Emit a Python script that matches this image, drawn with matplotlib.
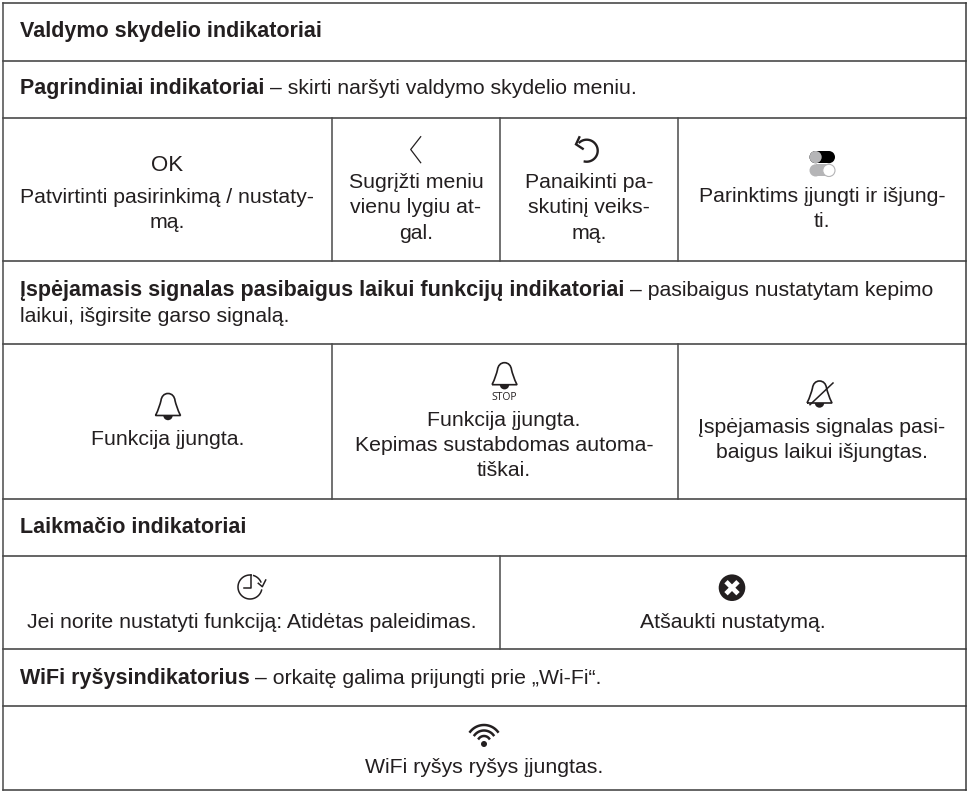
"""Control-panel indicator table drawn on a pixel-sized canvas."""
import numpy as np
import matplotlib

matplotlib.use("Agg")
import matplotlib.pyplot as plt
from matplotlib.patches import Circle, PathPatch, Rectangle, Wedge
from matplotlib.path import Path

WIDTH, HEIGHT = 969, 792
INK = "#231f20"
FONT = "Liberation Sans"
BODY = 15.3
BOLD = 15.5

# table grid
row_lines = [3, 61, 118, 261, 344, 499, 556, 649, 706, 790]
col_lines = [
    (118, 261, [332, 500, 678]),
    (344, 499, [332, 678]),
    (556, 649, [500]),
]

# full width rows: baseline, bold part, regular part
banner_rows = [
    (37, "Valdymo skydelio indikatoriai", ""),
    (94, "Pagrindiniai indikatoriai", "– skirti naršyti valdymo skydelio meniu."),
    (296, "Įspėjamasis signalas pasibaigus laikui funkcijų indikatoriai", "– pasibaigus nustatytam kepimo"),
    (533, "Laikmačio indikatoriai", ""),
    (684, "WiFi ryšysindikatorius", "– orkaitę galima prijungti prie „Wi-Fi“."),
]
wrapped_line = (322, "laikui, išgirsite garso signalą.")

# centred cells: x centre, baselines, lines
cell_text = [
    (167, [203, 228], ["Patvirtinti pasirinkimą / nustaty-", "mą."]),
    (416, [188, 213, 239], ["Sugrįžti meniu", "vienu lygiu at-", "gal."]),
    (589, [188, 213, 239], ["Panaikinti pa-", "skutinį veiks-", "mą."]),
    (822, [202, 227], ["Parinktims įjungti ir išjung-", "ti."]),
    (168, [445], ["Funkcija įjungta."]),
    (504, [426, 451, 476], ["Funkcija įjungta.", "Kepimas sustabdomas automa-", "tiškai."]),
    (822, [433, 458], ["Įspėjamasis signalas pasi-", "baigus laikui išjungtas."]),
    (252, [628], ["Jei norite nustatyti funkciją: Atidėtas paleidimas."]),
    (733, [628], ["Atšaukti nustatymą."]),
    (484, [773], ["WiFi ryšys ryšys įjungtas."]),
]


def draw_bell(ax, cx, top, slashed=False):
    b = top + 22
    verts = [(cx - 12.5, b), (cx - 9.5, b - 6), (cx - 8, b - 11), (cx - 7, b - 15),
             (cx - 6.5, b - 19), (cx - 4, b - 22), (cx, b - 22),
             (cx + 4, b - 22), (cx + 6.5, b - 19), (cx + 7, b - 15),
             (cx + 8, b - 11), (cx + 9.5, b - 6), (cx + 12.5, b), (cx - 12.5, b)]
    codes = [Path.MOVETO] + [Path.CURVE4] * 12 + [Path.LINETO]
    ax.add_patch(PathPatch(Path(verts, codes), fc="none", ec=INK, lw=1.2, joinstyle="miter"))
    ax.add_patch(Wedge((cx, b), 4.7, 0, 180, fc=INK, ec="none"))
    if slashed:
        ax.plot([cx - 9.5, cx + 13.5], [b + 1.7, b - 20], color=INK, lw=1.1)


def draw_undo(ax, cx, cy):
    t = np.radians(np.linspace(-100, 130, 60))
    ax.plot(cx + 11 * np.cos(t), cy - 11 * np.sin(t), color=INK, lw=1.7)
    ax.plot([cx - 7.4, cx - 10.7, cx - 4], [cy - 13.4, cy - 6.4, cy - 2], color=INK, lw=1.7,
            solid_joinstyle="miter")


def draw_toggles(ax, x0, x1):
    h = 12.2
    for y, bar, knob_x, knob, edge in [
        (151, "black", x0 + h / 2, "#b5b5b7", "none"),
        (164.3, "#b5b5b7", x1 - h / 2, "white", "#b5b5b7"),
    ]:
        ax.add_patch(Rectangle((x0 + h / 2, y), x1 - x0 - h, h, fc=bar, ec="none"))
        ax.add_patch(Circle((x0 + h / 2, y + h / 2), h / 2, fc=bar, ec="none"))
        ax.add_patch(Circle((x1 - h / 2, y + h / 2), h / 2, fc=bar, ec="none"))
        ax.add_patch(Circle((knob_x, y + h / 2), h / 2, fc=knob, ec=edge, lw=0.8))


def draw_clock(ax, cx, cy):
    t = np.radians(np.linspace(85, 345, 80))
    ax.plot(cx + 12 * np.cos(t), cy - 12 * np.sin(t), color=INK, lw=1.1)
    t = np.radians(np.linspace(25, 72, 15))
    ax.plot(cx + 12 * np.cos(t), cy - 12 * np.sin(t), color=INK, lw=1.1)
    ax.plot([cx + 8.3, cx + 12.3, cx + 15.7], [cy - 3.7, cy - 0.3, cy - 7], color=INK, lw=1.1)
    ax.plot([cx + 1, cx + 1, cx - 6], [cy - 12, cy + 1, cy + 1], color=INK, lw=1.1)


def draw_cancel(ax, cx, cy):
    ax.add_patch(Circle((cx, cy), 13.3, fc=INK, ec="none"))
    ax.plot([cx - 6, cx + 6], [cy - 6, cy + 6], color="white", lw=3.4, solid_capstyle="butt")
    ax.plot([cx - 6, cx + 6], [cy + 6, cy - 6], color="white", lw=3.4, solid_capstyle="butt")


def draw_wifi(ax, cx, dot_y):
    ax.add_patch(Circle((cx, dot_y), 3, fc=INK, ec="none"))
    t = np.radians(np.linspace(38, 142, 40))
    for r in [6.5, 12, 17.5]:
        ax.plot(cx + r * np.cos(t), dot_y - 1.5 - r * np.sin(t), color=INK, lw=1.8)


fig = plt.figure(figsize=(WIDTH / 100, HEIGHT / 100), dpi=100)
ax = fig.add_axes([0, 0, 1, 1])
ax.set_xlim(0, WIDTH)
ax.set_ylim(HEIGHT, 0)
ax.axis("off")
plt.rcParams["font.family"] = [FONT, "DejaVu Sans"]

for y in row_lines:
    ax.plot([3, 966], [y, y], color="#3a3a3a", lw=1.1, solid_capstyle="projecting")
ax.plot([3, 3], [3, 790], color="#4a4a4a", lw=1.1)
ax.plot([966, 966], [3, 790], color="#3a3a3a", lw=1.1)
for y0, y1, xs in col_lines:
    for x in xs:
        ax.plot([x, x], [y0, y1], color="#4a4a4a", lw=1.1)

fig.canvas.draw()
renderer = fig.canvas.get_renderer()
for y, bold, rest in banner_rows:
    t = ax.text(20, y, bold, fontweight="bold", fontsize=BOLD, color=INK, va="baseline")
    if rest:
        end = t.get_window_extent(renderer).x1
        ax.text(end + 5.5, y, rest, fontsize=BODY, color=INK, va="baseline")
ax.text(20, wrapped_line[0], wrapped_line[1], fontsize=BODY, color=INK, va="baseline")

for cx, baselines, lines in cell_text:
    for y, line in zip(baselines, lines):
        ax.text(cx, y, line, fontsize=BODY, color=INK, ha="center", va="baseline")

# icons
ax.text(167, 171, "OK", fontsize=16, color=INK, ha="center", va="baseline")
ax.plot([420.7, 410.7, 420.7], [136.7, 149.5, 162.7], color=INK, lw=0.9)
draw_undo(ax, 586.7, 150.7)
draw_toggles(ax, 809.5, 835)
draw_bell(ax, 168, 393.5)
draw_bell(ax, 504.5, 362.7)
ax.text(504.5, 400, "STOP", fontsize=7.5, family="Open Sans", color=INK, ha="center", va="baseline")
draw_bell(ax, 819.5, 381, slashed=True)
draw_clock(ax, 250, 587)
draw_cancel(ax, 732, 587.7)
draw_wifi(ax, 484, 744)

fig.savefig("out.png", dpi=100)
